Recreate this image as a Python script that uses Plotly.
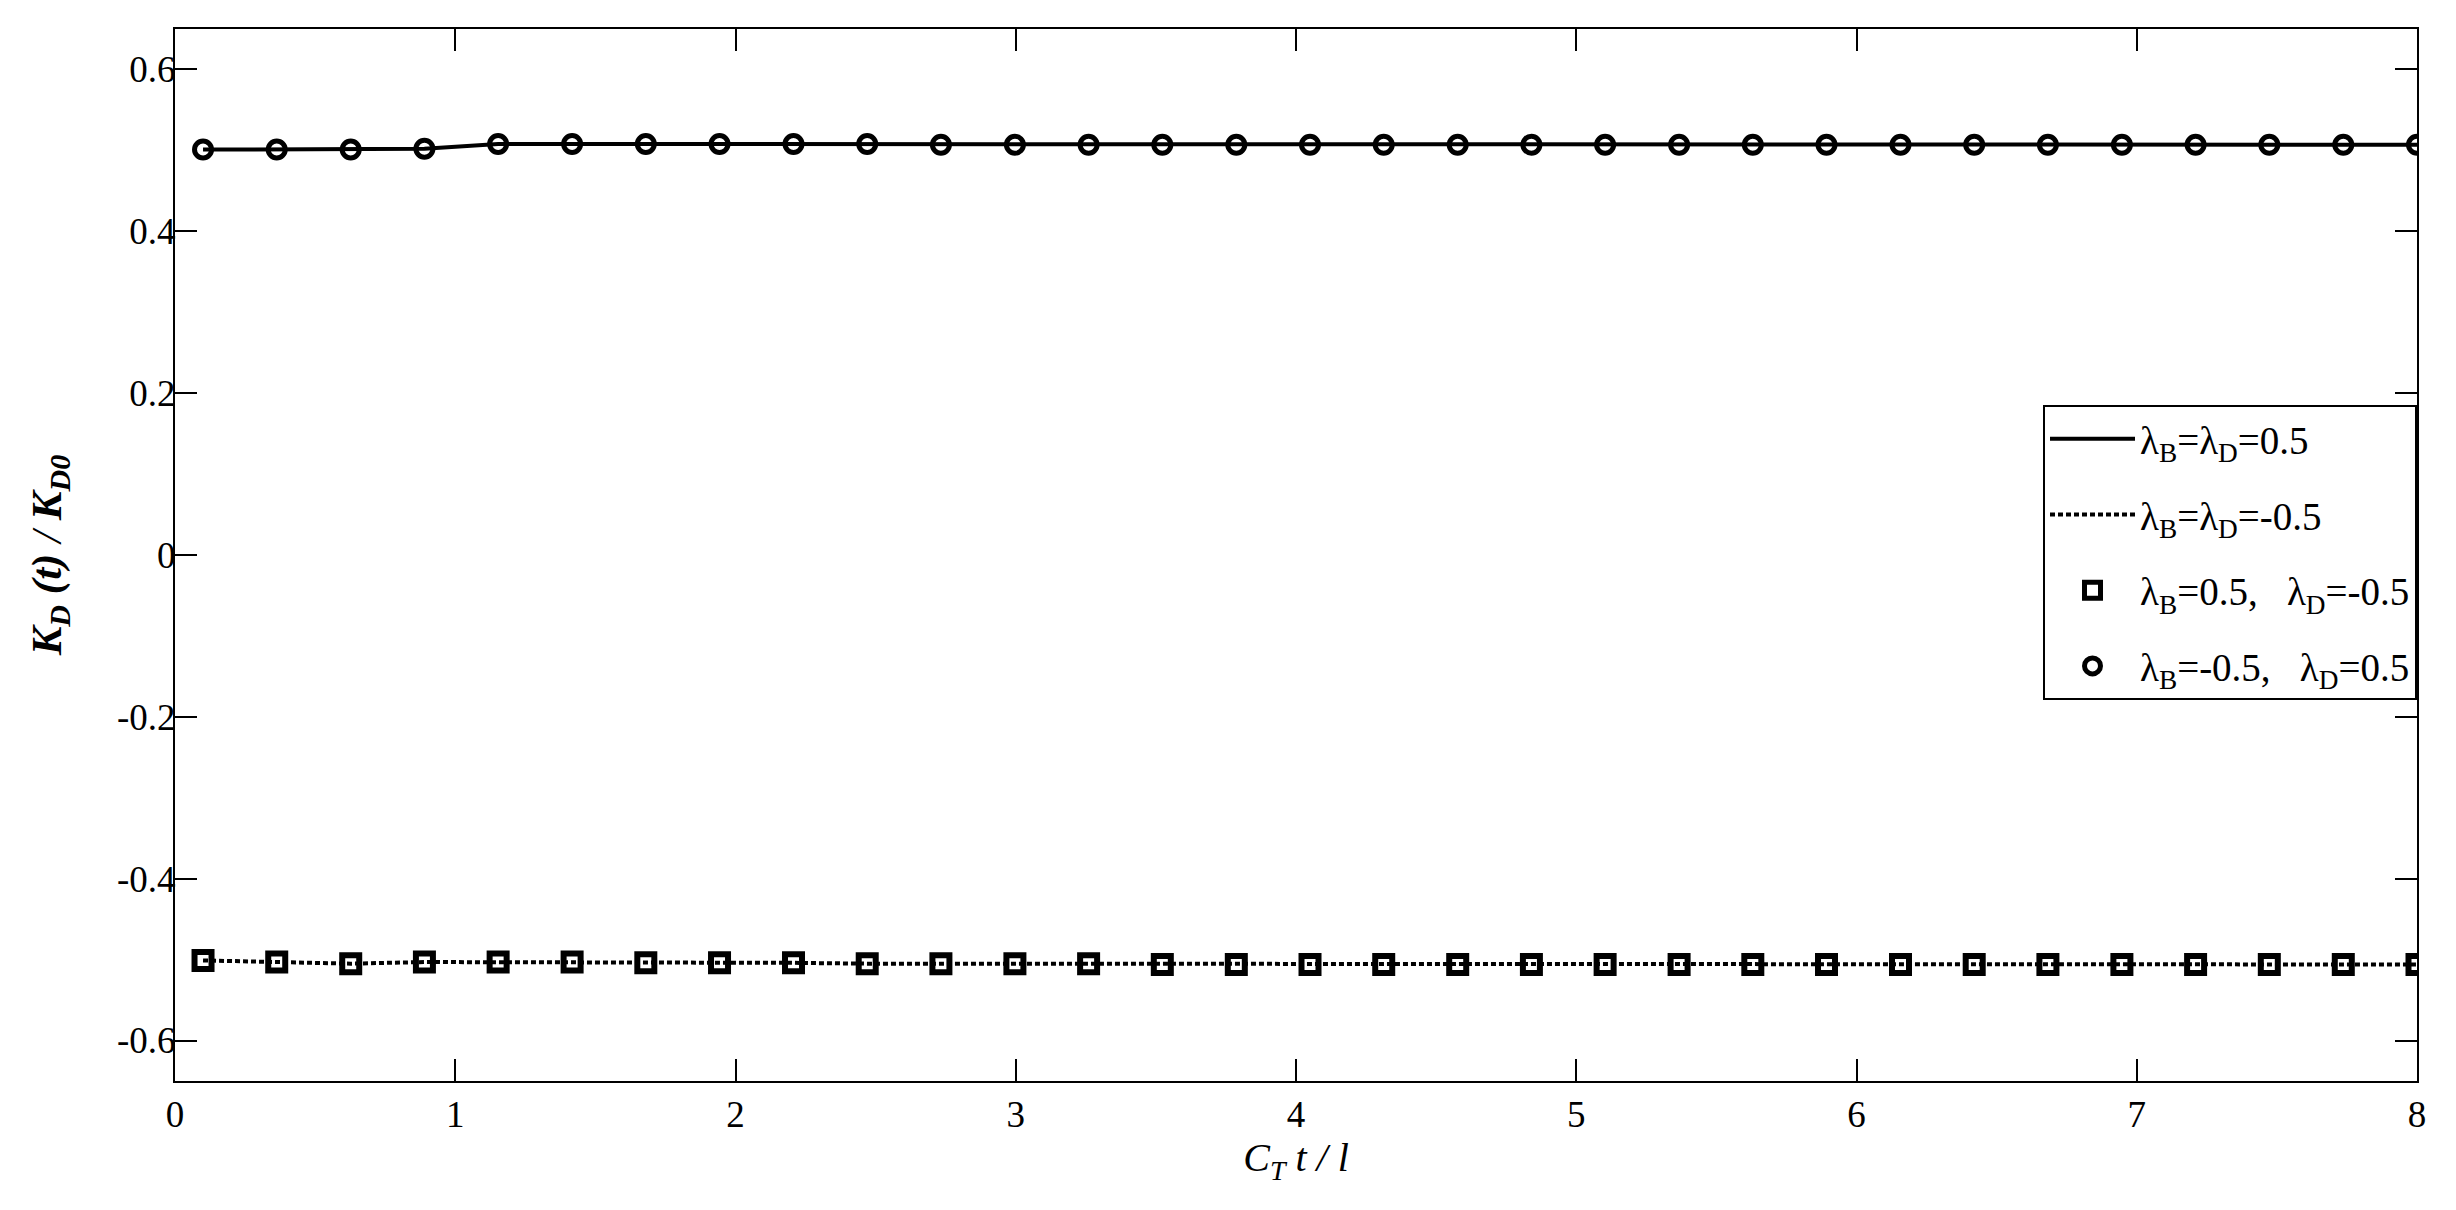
import plotly.graph_objects as go

x_vals = [0.1, 0.363, 0.627, 0.89, 1.153, 1.417, 1.68, 1.943, 2.207, 2.47,
          2.733, 2.997, 3.26, 3.523, 3.787, 4.05, 4.313, 4.577, 4.84, 5.103,
          5.367, 5.63, 5.893, 6.157, 6.42, 6.683, 6.947, 7.21, 7.473, 7.737, 8.0]

pos_vals = [0.501, 0.501, 0.501, 0.502, 0.508, 0.508, 0.508, 0.508, 0.508, 0.508,
            0.507, 0.507, 0.507, 0.507, 0.507, 0.507, 0.507, 0.507, 0.507, 0.507,
            0.507, 0.507, 0.507, 0.507, 0.507, 0.507, 0.507, 0.507, 0.507, 0.507, 0.507]

neg_vals = [-0.501, -0.503, -0.505, -0.503, -0.503, -0.503, -0.504, -0.504, -0.504, -0.505,
            -0.505, -0.505, -0.505, -0.506, -0.506, -0.506, -0.506, -0.506, -0.506, -0.506,
            -0.506, -0.506, -0.506, -0.506, -0.506, -0.506, -0.506, -0.506, -0.506, -0.506, -0.506]

y_tickvals = [-0.6, -0.4, -0.2, 0, 0.2, 0.4, 0.6]
y_ticktext = ["-0.6", "-0.4", "-0.2", "0", "0.2", "0.4", "0.6"]
x_tickvals = [0, 1, 2, 3, 4, 5, 6, 7, 8]
x_ticktext = ["0", "1", "2", "3", "4", "5", "6", "7", "8"]

names = [
    "λ<sub>B</sub>=λ<sub>D</sub>=0.5",
    "λ<sub>B</sub>=λ<sub>D</sub>=-0.5",
    "λ<sub>B</sub>=0.5,   λ<sub>D</sub>=-0.5",
    "λ<sub>B</sub>=-0.5,   λ<sub>D</sub>=0.5",
]

FONT = "Liberation Serif"

fig = go.Figure()
fig.add_trace(go.Scatter(x=x_vals, y=pos_vals, mode="lines", name=names[0],
                         legendgroup="a",
                         line=dict(color="black", width=4)))
fig.add_trace(go.Scatter(x=x_vals, y=neg_vals, mode="lines", name=names[1],
                         legendgroup="b",
                         line=dict(color="black", width=4, dash="5px,3px")))
fig.add_trace(go.Scatter(x=x_vals, y=neg_vals, mode="markers", name=names[2],
                         legendgroup="c",
                         marker=dict(symbol="square-open", size=17, color="black",
                                     line=dict(color="black", width=6))))
fig.add_trace(go.Scatter(x=x_vals, y=pos_vals, mode="markers", name=names[3],
                         legendgroup="d",
                         marker=dict(symbol="circle-open", size=17, color="black",
                                     line=dict(color="black", width=5))))

axis_common = dict(
    showline=True, linecolor="black", linewidth=2, mirror="ticks",
    ticks="inside", ticklen=22, tickwidth=2, tickcolor="black",
    showgrid=False, zeroline=False, automargin=False,
    tickfont=dict(family=FONT, size=37, color="black"),
)

fig.update_xaxes(range=[0, 8], tickvals=x_tickvals, ticktext=x_ticktext,
                 title=dict(text="<i>C<sub>T</sub> t / l</i>",
                            font=dict(family=FONT, size=40, color="black"),
                            standoff=0),
                 **axis_common)
fig.update_yaxes(range=[-0.65, 0.65], tickvals=y_tickvals, ticktext=y_ticktext,
                 ticklabelstandoff=-10,
                 title=dict(text="<b><i>K<sub>D</sub> (t)</i></b><i> / </i><b><i>K<sub>D0</sub></i></b>",
                            font=dict(family=FONT, size=43, color="black"),
                            standoff=42),
                 **axis_common)

# page body has an 8px margin, so the figure is offset by 8px
fig.update_layout(
    width=2448, height=1202,
    margin=dict(l=167, r=39, t=21, b=129),
    paper_bgcolor="white", plot_bgcolor="white",
    font=dict(family=FONT, color="black"),
    showlegend=True,
    legend=dict(
        x=1, xanchor="right", y=0.6426, yanchor="top",
        bgcolor="white", bordercolor="black", borderwidth=2,
        font=dict(family=FONT, size=39, color="black"),
        tracegroupgap=22, traceorder="grouped",
        itemwidth=85,
    ),
)

fig.write_html("out.html")
